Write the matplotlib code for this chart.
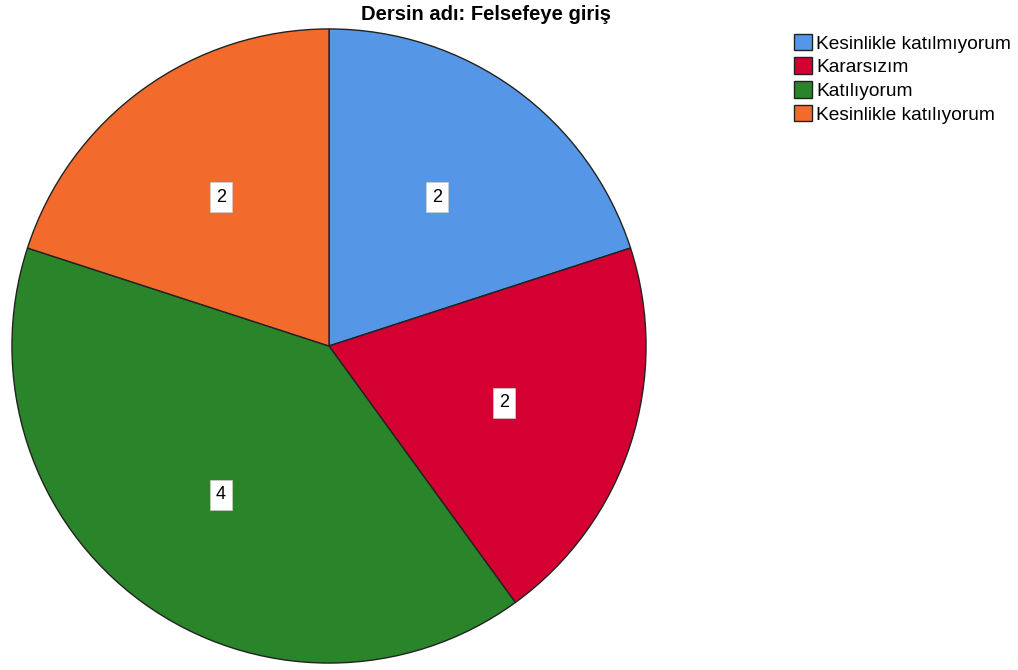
import matplotlib.pyplot as plt

title = 'Dersin adı: Felsefeye giriş'
categories = ['Kesinlikle katılmıyorum', 'Kararsızım', 'Katılıyorum', 'Kesinlikle katılıyorum']
counts = [2, 2, 4, 2]
colors = ['#5596e6', '#d40031', '#2a8429', '#f26b2c']

plt.rcParams['font.family'] = ['Liberation Sans', 'DejaVu Sans']

fig = plt.figure(figsize=(10.18, 6.7), dpi=100)
ax = fig.add_axes([11 / 1018, 6 / 670, 636 / 1018, 636 / 670])

wedges, texts = ax.pie(counts, colors=colors, startangle=90, counterclock=False,
                       labels=[str(c) for c in counts], labeldistance=0.58,
                       wedgeprops=dict(edgecolor='#222222', linewidth=1),
                       textprops=dict(fontsize=13, ha='center', va='center'))
for t in texts:
    t.set_bbox(dict(boxstyle='square,pad=0.35', facecolor='white',
                    edgecolor='#cccccc', linewidth=0.5))
ax.set_xlim(-1.003, 1.003)
ax.set_ylim(-1.003, 1.003)
ax.set_aspect('equal')

fig.text(486 / 1018, 1 - 14 / 670, title, ha='center', va='center',
         fontsize=14.5, fontweight='bold')

fig.legend(wedges, categories, loc='upper left', bbox_to_anchor=(790 / 1018, 1 - 30 / 670),
           frameon=False, fontsize=13.8, handlelength=0.95, handleheight=0.95,
           handletextpad=0.2, labelspacing=0.25, borderpad=0.2, borderaxespad=0)

fig.savefig('out.png', dpi=100)
